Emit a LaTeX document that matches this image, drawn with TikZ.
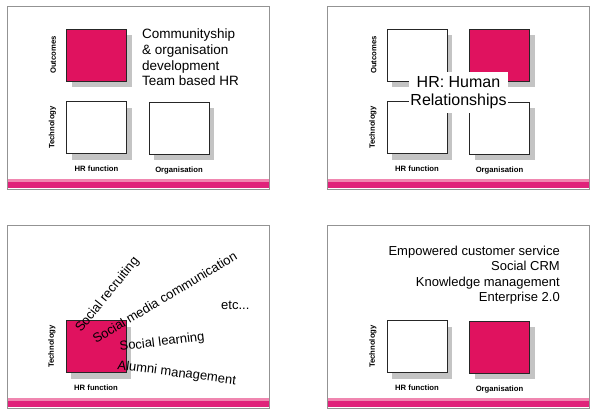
\documentclass[tikz,border=0pt]{standalone}
\usepackage{fontspec}
\setmainfont{Liberation Sans}
\usetikzlibrary{positioning,shadows}
\definecolor{hrpink}{HTML}{E0125F}
\definecolor{barlight}{HTML}{F086B0}
\definecolor{bardark}{HTML}{E0227A}
\definecolor{shade}{HTML}{C4C4C4}

\begin{document}
\begin{tikzpicture}[x=1pt,y=-1pt,
	box/.style={draw=black!85, line width=0.8pt, minimum width=60pt, minimum height=52pt, inner sep=0pt, fill=white,
		drop shadow={shadow xshift=5pt, shadow yshift=-6pt, fill=shade, opacity=1}},
	pinkbox/.style={box, fill=hrpink},
	axislab/.style={font=\bfseries\fontsize{7.7}{9}\selectfont, inner sep=0pt},
	sidelab/.style={axislab, rotate=90},
	big/.style={font=\fontsize{13}{15.3}\selectfont, inner sep=0pt},
	slant/.style={big, anchor=base west}]

	\useasboundingbox (0,0) rectangle (598,418);

	\foreach \x/\y in {7/6, 327/6, 7/225, 327/225} {
		\fill[barlight] (\x+1,\y+173) rectangle (\x+262,\y+176);
		\fill[bardark] (\x+1,\y+176) rectangle (\x+262,\y+182);
		\draw[gray!85, line width=0.8pt] (\x,\y) rectangle (\x+262,\y+183);
	}

	\node[pinkbox] (out1) at (96.5,55) {};
	\node[box] (hr1) at (96.5,127.5) {};
	\node[box] (org1) at (179,128) {};
	\node[sidelab] (o1) [left=10pt of out1, anchor=south] {Outcomes};
	\node[sidelab] (t1) [left=10pt of hr1, anchor=south] {Technology};
	\node[axislab] (h1) [below=12pt of hr1] {HR function};
	\node[axislab] (g1) [below=12pt of org1] {Organisation};
	\node[big, align=left, anchor=base west, font=\fontsize{13.5}{15.6}\selectfont] (comm) at (142,85.7)
		{Communityship\\\& organisation\\development\\Team based HR};

	\node[box] (out2a) at (417,55) {};
	\node[pinkbox] (out2b) at (499.5,55) {};
	\node[box] (hr2) at (417,127.5) {};
	\node[box] (org2) at (499.5,128) {};
	\node[sidelab] (o2) [left=10pt of out2a, anchor=south] {Outcomes};
	\node[sidelab] (t2) [left=10pt of hr2, anchor=south] {Technology};
	\node[axislab] (h2) [below=12pt of hr2] {HR function};
	\node[axislab] (g2) [below=12pt of org2] {Organisation};
	\node[fill=white, minimum width=99pt, minimum height=41pt, inner sep=0pt, align=center,
		font=\fontsize{16}{18}\selectfont] (human) at (458.5,92.5) {HR: Human\\Relationships};

	\node[pinkbox] (hr3) at (96,346.5) {};
	\node[sidelab] (t3) [left=10pt of hr3, anchor=south] {Technology};
	\node[axislab] (h3) [below=12pt of hr3] {HR function};
	\node[slant, rotate=51] (recruit) at (81,333) {Social recruiting};
	\node[slant, rotate=31] (media) at (96,344) {Social media communication};
	\node[slant, rotate=7] (learn) at (120,351) {Social learning};
	\node[slant, rotate=-7.5] (alumni) at (117,369) {Alumni management};
	\node[slant] (etc) at (221,309) {etc...};

	\node[big, align=right, anchor=base east] (crm) at (560,301.5)
		{Empowered customer service\\Social CRM\\Knowledge management\\Enterprise 2.0};
	\node[box] (hr4) at (417,346.5) {};
	\node[pinkbox] (org4) at (499.5,347) {};
	\node[sidelab] (t4) [left=10pt of hr4, anchor=south] {Technology};
	\node[axislab] (h4) [below=12pt of hr4] {HR function};
	\node[axislab] (g4) [below=12pt of org4] {Organisation};
\end{tikzpicture}
\end{document}
